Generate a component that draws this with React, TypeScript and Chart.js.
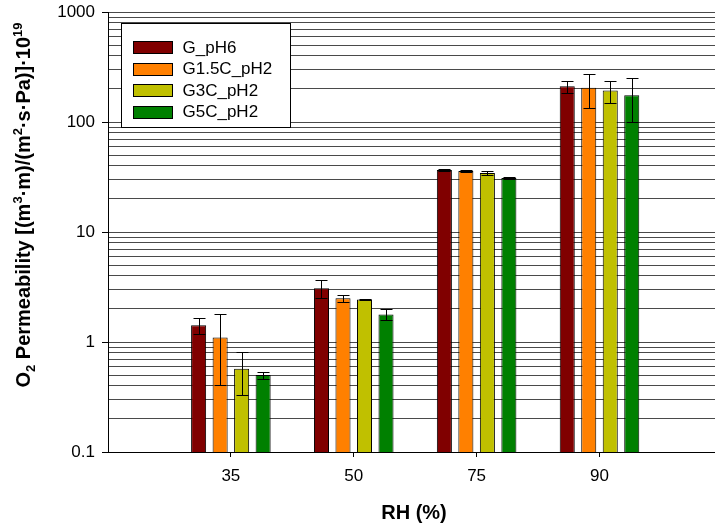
import React, { useEffect, useRef } from "react";
import { Chart, registerables } from "chart.js";

Chart.register(...registerables);

// ---- data ----
const categories = ["35", "50", "75", "90"];
const categoryPositions = [1, 2, 3, 4];
const seriesNames = ["G_pH6", "G1.5C_pH2", "G3C_pH2", "G5C_pH2"];
const seriesColors = ["#800000", "#FF8000", "#C0C000", "#008000"];
const gPH6 = [1.42, 3.08, 36.6, 211];
const g15C = [1.1, 2.5, 35.8, 205];
const g3C = [0.57, 2.43, 34.3, 193];
const g5C = [0.5, 1.78, 30.9, 175];
const gPH6Err = [0.24, 0.55, 0.5, 27];
const g15CErr = [0.69, 0.2, 0.8, 70];
const g3CErr = [0.24, 0.04, 1.5, 43];
const g5CErr = [0.036, 0.2, 0.4, 76];
const seriesValues = [gPH6, g15C, g3C, g5C];
const seriesErrors = [gPH6Err, g15CErr, g3CErr, g5CErr];
const yTickValues = [
  0.1, 0.2, 0.3, 0.4, 0.5, 0.6, 0.7, 0.8, 0.9,
  1, 2, 3, 4, 5, 6, 7, 8, 9,
  10, 20, 30, 40, 50, 60, 70, 80, 90,
  100, 200, 300, 400, 500, 600, 700, 800, 900,
  1000,
];
const yMajorTicks = [0.1, 1, 10, 100, 1000];
const yMin = 0.1;
const yMax = 1000;
const xMin = 0;
const xMax = 4.94;
const xTitle = "RH (%)";
const yTitleSegments = [
  { t: "O", k: "n" },
  { t: "2", k: "sub" },
  { t: " Permeability [(m", k: "n" },
  { t: "3", k: "sup" },
  { t: "·m)/(m", k: "n" },
  { t: "2", k: "sup" },
  { t: "·s·Pa)]·10", k: "n" },
  { t: "19", k: "sup" },
];

const FONT = '"Liberation Sans", Arial, sans-serif';

function drawRich(ctx: CanvasRenderingContext2D, segs: { t: string; k: string }[], cx: number, cy: number, rotate: boolean, size: number) {
  ctx.save();
  ctx.translate(cx, cy);
  if (rotate) ctx.rotate(-Math.PI / 2);
  const main = `bold ${size}px ${FONT}`;
  const small = `bold ${Math.round(size * 0.65)}px ${FONT}`;
  let total = 0;
  const widths = segs.map((s) => {
    ctx.font = s.k === "n" ? main : small;
    const w = ctx.measureText(s.t).width;
    total += w;
    return w;
  });
  let x = -total / 2;
  ctx.textBaseline = "alphabetic";
  ctx.textAlign = "left";
  ctx.fillStyle = "#000";
  segs.forEach((s, i) => {
    ctx.font = s.k === "n" ? main : small;
    const dy = s.k === "sub" ? size * 0.25 : s.k === "sup" ? -size * 0.42 : 0;
    ctx.fillText(s.t, x, dy);
    x += widths[i];
  });
  ctx.restore();
}

const errorBarPlugin = {
  id: "errorBars",
  afterDatasetsDraw(chart: any) {
    const ctx = chart.ctx as CanvasRenderingContext2D;
    const yScale = chart.scales.y;
    ctx.save();
    ctx.strokeStyle = "#000";
    ctx.lineWidth = 1;
    chart.data.datasets.forEach((ds: any, di: number) => {
      const meta = chart.getDatasetMeta(di);
      meta.data.forEach((bar: any, j: number) => {
        const v = seriesValues[di][j];
        const e = seriesErrors[di][j];
        const hi = v + e;
        const lo = Math.max(v - e, yMin);
        const yHi = Math.round(yScale.getPixelForValue(hi)) + 0.5;
        const yLo = Math.round(yScale.getPixelForValue(lo)) + 0.5;
        const x = Math.round(bar.x) + 0.5;
        const half = 6;
        ctx.beginPath();
        ctx.moveTo(x, yHi);
        ctx.lineTo(x, yLo);
        ctx.moveTo(x - half, yHi);
        ctx.lineTo(x + half, yHi);
        ctx.moveTo(x - half, yLo);
        ctx.lineTo(x + half, yLo);
        ctx.stroke();
      });
    });
    ctx.restore();
  },
};

const overlayPlugin = {
  id: "overlay",
  afterDraw(chart: any) {
    const ctx = chart.ctx as CanvasRenderingContext2D;
    // legend box
    const bx = 121.5, by = 23.5, bw = 169, bh = 104;
    ctx.save();
    ctx.fillStyle = "#fff";
    ctx.fillRect(bx, by, bw, bh);
    ctx.strokeStyle = "#000";
    ctx.lineWidth = 1;
    ctx.strokeRect(bx, by, bw, bh);
    ctx.font = `17px ${FONT}`;
    ctx.textBaseline = "middle";
    ctx.textAlign = "left";
    seriesNames.forEach((name, i) => {
      const cy = 47.2 + i * 21.5;
      const top = Math.round(cy - 6) + 0.5;
      ctx.fillStyle = seriesColors[i];
      ctx.fillRect(133.5, top, 39, 12);
      ctx.strokeStyle = "#000";
      ctx.strokeRect(133.5, top, 39, 12);
      ctx.fillStyle = "#000";
      ctx.fillText(name, 182.5, cy + 1);
    });
    ctx.restore();
    // axis titles
    drawRich(ctx, yTitleSegments, 30, 205, true, 20);
    drawRich(ctx, [{ t: xTitle, k: "n" }], 414, 519, false, 20);
  },
};

export default function App() {
  const canvasRef = useRef<HTMLCanvasElement>(null);
  useEffect(() => {
    document.body.style.margin = "0";
    const canvas = canvasRef.current;
    if (!canvas) return;
    const chart = new Chart(canvas, {
      type: "bar",
      data: {
        datasets: seriesNames.map((name, i) => ({
          label: name,
          data: categoryPositions.map((x, j) => ({ x, y: seriesValues[i][j] })),
          backgroundColor: seriesColors[i],
          borderColor: "#000",
          borderWidth: 1,
          barPercentage: 0.7,
          categoryPercentage: 0.7,
        })),
      },
      options: {
        animation: false,
        responsive: true,
        maintainAspectRatio: false,
        layout: { padding: { top: 12, right: 0, left: 0, bottom: 0 } },
        plugins: { legend: { display: false }, tooltip: { enabled: false } },
        scales: {
          x: {
            type: "linear",
            min: xMin,
            max: xMax,
            offset: false,
            afterFit: (scale: any) => {
              scale.height = 75;
              scale.paddingLeft = 0;
              scale.paddingRight = 0;
            },
            afterBuildTicks: (scale: any) => {
              scale.ticks = categoryPositions.map((v) => ({ value: v }));
            },
            ticks: {
              autoSkip: false,
              maxRotation: 0,
              padding: 9,
              color: "#000",
              font: { family: FONT, size: 17 },
              callback: (v: any) => {
                const idx = categoryPositions.indexOf(Number(v));
                return idx >= 0 ? categories[idx] : "";
              },
            },
            grid: {
              offset: false,
              drawOnChartArea: false,
              drawTicks: true,
              tickLength: 5,
              color: "#000",
            },
            border: { color: "#000", width: 1 },
          },
          y: {
            type: "logarithmic",
            min: yMin,
            max: yMax,
            afterFit: (scale: any) => {
              scale.width = 108;
              scale.paddingTop = 0;
              scale.paddingBottom = 0;
            },
            afterBuildTicks: (scale: any) => {
              scale.ticks = yTickValues.map((v) => ({ value: v, major: false }));
            },
            ticks: {
              autoSkip: false,
              padding: 7,
              color: "#000",
              font: { family: FONT, size: 17 },
              callback: (v: any) => (yMajorTicks.includes(Number(v)) ? String(v) : ""),
            },
            grid: {
              color: "#4a4a4a",
              lineWidth: 1,
              drawTicks: true,
              tickLength: 6,
              tickColor: (c: any) =>
                c.tick && yMajorTicks.includes(c.tick.value) ? "#000" : "rgba(0,0,0,0)",
            },
            border: { color: "#000", width: 1 },
          },
        },
      },
      plugins: [errorBarPlugin, overlayPlugin],
    });
    return () => chart.destroy();
  }, []);
  return (
    <div style={{ position: "relative", width: 715, height: 527, background: "#fff" }}>
      <canvas ref={canvasRef} />
    </div>
  );
}
